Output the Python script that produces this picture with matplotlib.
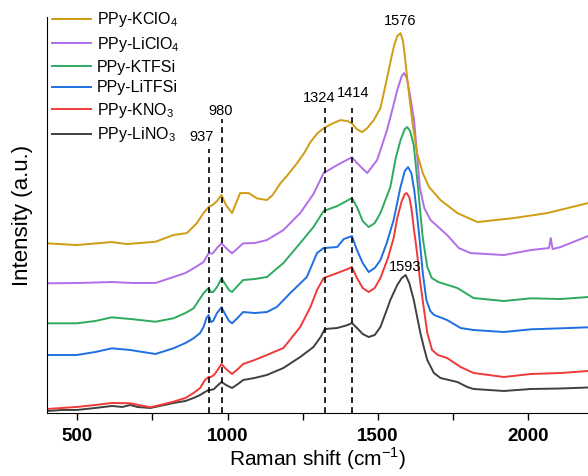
import matplotlib
matplotlib.use("Agg")
import matplotlib.pyplot as plt

plt.rcParams['font.family'] = ['Liberation Sans', 'DejaVu Sans']
plt.rcParams['mathtext.fontset'] = 'custom'
plt.rcParams['mathtext.rm'] = 'Liberation Sans'

# Raman spectra (stacked, intensity in a.u.)
x_lino3 = [400, 450, 498, 560, 615, 650, 676, 700, 743, 790, 820, 860, 887, 909, 925, 937, 945, 955,
           965, 980, 995, 1015, 1035, 1052, 1090, 1131, 1186, 1242, 1286, 1310, 1324, 1365, 1400,
           1414, 1431, 1450, 1470, 1490, 1509, 1530, 1542, 1565, 1580, 1593, 1605, 1620, 1632, 1642,
           1655, 1665, 1687, 1709, 1765, 1798, 1819, 1920, 2010, 2109, 2200]
y_lino3 = [2, 3, 3, 5, 7, 6, 8, 6, 5, 8, 10, 12, 15, 18, 21, 23, 23, 24,
           27, 31, 28, 25, 29, 33, 35, 38, 45, 56, 66, 76, 84, 85, 88,
           90, 85, 79, 76, 78, 86, 103, 113, 128, 135, 138, 130, 113, 95, 80,
           64, 53, 40, 35, 31, 26, 24, 22, 24, 24.5, 25.5]

x_kno3 = [400, 498, 560, 615, 676, 743, 790, 820, 860, 887, 909, 925, 937, 945, 955, 965, 980, 995,
          1015, 1035, 1052, 1090, 1131, 1186, 1242, 1276, 1298, 1320, 1365, 1400, 1414, 1431, 1450,
          1470, 1490, 1509, 1534, 1553, 1565, 1580, 1590, 1596, 1605, 1612, 1620, 1631, 1641, 1651,
          1665, 1681, 1700, 1731, 1776, 1819, 1920, 2010, 2109, 2200]
y_kno3 = [4, 6, 8, 10, 9.7, 5.7, 9, 11.3, 15, 20, 25, 33, 36, 36, 38, 42, 49, 44,
          39, 44, 49, 53, 58, 65, 86, 106, 123, 135, 140, 144, 146, 135, 125,
          121, 125, 135, 155, 175, 195, 212, 219, 220, 216, 205, 185, 160, 132, 110,
          80, 63, 58, 55, 46, 40, 36, 39, 40, 42]

x_litfsi = [400, 498, 560, 615, 676, 760, 820, 860, 887, 909, 920, 930, 937, 945, 952, 965, 980, 990,
            1005, 1015, 1030, 1052, 1090, 1131, 1164, 1209, 1264, 1298, 1320, 1365, 1387, 1414, 1431,
            1450, 1470, 1490, 1509, 1530, 1553, 1575, 1590, 1601, 1612, 1622, 1632, 1640, 1650, 1662,
            1675, 1688, 1731, 1776, 1819, 1920, 2010, 2109, 2200]
y_litfsi = [58, 58, 61, 64.7, 63, 59, 64.7, 70, 74.7, 80, 86, 95, 98, 91, 92, 100, 105.7, 100,
            92, 89.7, 94, 101, 100, 101, 106, 120, 136, 160, 165, 166, 174, 177, 163,
            150, 141, 145, 153, 170, 193, 225, 242, 246, 240, 222, 195, 172, 140, 113,
            102, 98, 93, 85, 83, 81, 83.7, 84.7, 85.7]

x_ktfsi = [400, 498, 560, 615, 687, 760, 820, 860, 887, 920, 930, 937, 945, 952, 965, 980, 990, 1005,
           1015, 1030, 1052, 1090, 1131, 1186, 1242, 1286, 1320, 1365, 1390, 1414, 1431, 1450, 1470,
           1490, 1509, 1542, 1560, 1576, 1590, 1598, 1608, 1620, 1634, 1642, 1650, 1665, 1680, 1702,
           1765, 1819, 1920, 2010, 2109, 2200]
y_ktfsi = [89.7, 89.7, 92, 95.7, 93.7, 91.3, 94.7, 100, 104.7, 119.7, 123, 125, 121, 121, 126, 134.7, 130, 123,
           121, 126, 133, 134, 136, 150, 170, 186, 202, 207, 211, 215, 206, 192, 186,
           190, 200, 226, 255, 273, 284, 286, 282, 268, 226, 200, 175, 146, 135, 131,
           125, 115, 112, 114.7, 114, 116]

x_liclo4 = [400, 498, 615, 687, 760, 820, 860, 887, 920, 937, 950, 965, 980, 995, 1015, 1052, 1090,
            1131, 1186, 1242, 1286, 1320, 1365, 1390, 1414, 1431, 1465, 1498, 1531, 1550, 1565, 1580,
            1588, 1597, 1605, 1621, 1632, 1640, 1655, 1676, 1731, 1770, 1809, 1920, 2010, 2070, 2076,
            2082, 2109, 2200]
y_liclo4 = [129.7, 130, 131, 130, 130, 136, 140, 144.7, 151, 159.7, 159.5, 165, 169.7, 165, 159.7, 169.7, 170,
            173, 183, 200, 219, 240, 248, 252, 255.7, 250, 240, 253, 283, 305, 323, 337,
            340, 335, 322, 293, 255, 226, 205, 193, 178, 165, 160, 158, 163, 165, 175,
            164, 166, 177]

x_kclo4 = [400, 498, 615, 665, 760, 820, 865, 898, 920, 937, 950, 965, 980, 995, 1015, 1042, 1070,
           1098, 1131, 1150, 1176, 1200, 1231, 1255, 1276, 1300, 1320, 1345, 1376, 1400, 1414, 1430,
           1448, 1465, 1487, 1509, 1531, 1545, 1555, 1565, 1576, 1584, 1590, 1598, 1615, 1631, 1650,
           1671, 1709, 1765, 1832, 1953, 2065, 2200]
y_kclo4 = [169.7, 168, 171, 169, 171.3, 178, 180, 190, 200, 206, 208, 212, 218, 208, 200, 220, 220,
           214.7, 213, 218, 229.7, 238, 249.7, 260, 271, 280, 284.7, 289, 293, 292, 289.7, 284,
           281, 285, 293, 305, 335, 355, 368, 377, 380, 372, 358, 335, 292, 260, 240,
           226, 213, 200, 191, 195, 200, 210]

series = [
    (x_lino3, y_lino3, 'PPy-LiNO$_\\mathregular{3}$', '#404040'),
    (x_kno3, y_kno3, 'PPy-KNO$_\\mathregular{3}$', '#F03A3A'),
    (x_litfsi, y_litfsi, 'PPy-LiTFSi', '#1F6FE0'),
    (x_ktfsi, y_ktfsi, 'PPy-KTFSi', '#2EAA5F'),
    (x_liclo4, y_liclo4, 'PPy-LiClO$_\\mathregular{4}$', '#B06EE8'),
    (x_kclo4, y_kclo4, 'PPy-KClO$_\\mathregular{4}$', '#D09C12'),
]

marks = [937, 980, 1324, 1414]
mark_tops = [264, 294, 305, 305]
mark_label_x = [914, 977, 1305, 1418]
mark_label_y = [276, 302, 315, 320]

fig = plt.figure(figsize=(5.88, 4.76), dpi=100)
ax = fig.add_axes([0.0804, 0.1324, 0.9196, 0.8316])

lines = []
for xs, ys, name, col in series:
    l, = ax.plot(xs, ys, color=col, lw=1.4, label=name)
    lines.append(l)

for m, top in zip(marks, mark_tops):
    ax.plot([m, m], [0, top], color='k', lw=1.2, linestyle=(0, (3.5, 2.5)))
for m, lx, ly in zip(marks, mark_label_x, mark_label_y):
    ax.text(lx, ly, str(m), ha='center', va='center', fontsize=10.5)

ax.text(1576, 392, '1576', ha='center', va='center', fontsize=10.5)
ax.text(1590, 146, '1593', ha='center', va='center', fontsize=10.5)

ax.set_xlim(400, 2200)
ax.set_ylim(0, 396)
ax.set_xticks([500, 1000, 1500, 2000])
ax.set_xticks([750, 1250, 1750], minor=True)
ax.set_yticks([])
ax.tick_params(axis='x', which='both', direction='out', length=5, width=1, labelsize=13.5, pad=6)
for t in ax.get_xticklabels():
    t.set_fontweight('bold')
ax.spines['top'].set_visible(False)
ax.spines['right'].set_visible(False)

ax.set_xlabel('Raman shift (cm$^\\mathregular{-1}$)', fontsize=15, labelpad=0)
ax.set_ylabel('Intensity (a.u.)', fontsize=16, labelpad=10)

ax.legend(lines[::-1], [s[2] for s in series][::-1], loc='upper left',
          bbox_to_anchor=(0.089, 0.978), bbox_transform=fig.transFigure,
          frameon=False, fontsize=11.5, handlelength=2.4, handletextpad=0.4,
          labelspacing=0.35, borderpad=0, borderaxespad=0)

fig.savefig('out.png', dpi=100)
